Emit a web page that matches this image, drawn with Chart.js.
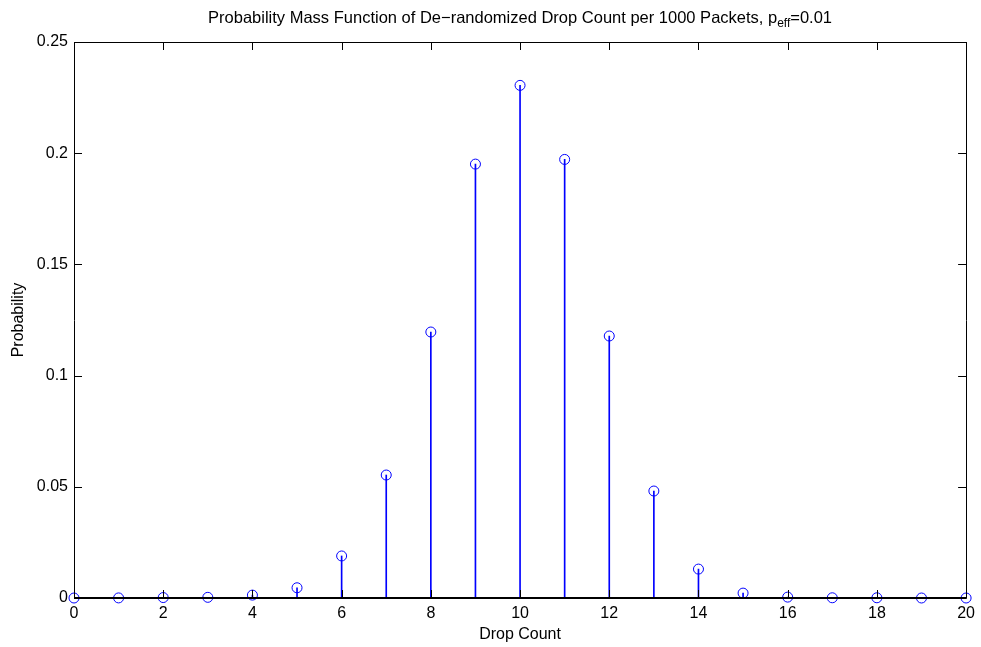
<!DOCTYPE html>
<html>
<head>
<meta charset="utf-8">
<script src="https://cdn.jsdelivr.net/npm/chart.js@4.4.1/dist/chart.umd.min.js"></script>
<style>
  html, body { margin: 0; padding: 0; background: #fff; }
  #wrap { width: 981px; height: 647px; position: relative; }
</style>
</head>
<body>
<div id="wrap"><canvas id="c" width="981" height="647"></canvas></div>
<script>
// ---- data ----
const dropCounts = [0,1,2,3,4,5,6,7,8,9,10,11,12,13,14,15,16,17,18,19,20];
const probabilities = [0, 0.00004, 0.0002, 0.0003, 0.0013, 0.0046, 0.0189, 0.0553, 0.1196, 0.1951,
                       0.2305, 0.1972, 0.1178, 0.0481, 0.0130, 0.0022, 0.0004, 0.0001, 0.0001, 0, 0];
const xTicks = [0,2,4,6,8,10,12,14,16,18,20];
const yTicks = [0, 0.05, 0.1, 0.15, 0.2, 0.25];
const titleMain = 'Probability Mass Function of De\u2212randomized Drop Count per 1000 Packets, p';
const titleSub = 'eff';
const titleTail = '=0.01';
const xLabel = 'Drop Count';
const yLabel = 'Probability';

const FONT = '"Liberation Sans", Arial, Helvetica, sans-serif';
const points = dropCounts.map((x, i) => ({ x: x, y: probabilities[i] }));

const framePlugin = {
  id: 'matlabFrame',
  afterDatasetsDraw(chart) {
    const ctx = chart.ctx;
    const a = chart.chartArea;
    const xs = chart.scales.x, ys = chart.scales.y;
    ctx.save();
    ctx.strokeStyle = '#000';
    ctx.lineWidth = 1;
    ctx.beginPath();
    ctx.rect(Math.round(a.left) + 0.5, Math.round(a.top) + 0.5,
             Math.round(a.right - a.left), Math.round(a.bottom - a.top));
    ctx.stroke();
    const TL = 8;
    ctx.beginPath();
    xTicks.forEach(v => {
      const px = Math.round(xs.getPixelForValue(v)) + 0.5;
      ctx.moveTo(px, a.bottom); ctx.lineTo(px, a.bottom - TL);
      ctx.moveTo(px, a.top); ctx.lineTo(px, a.top + TL);
    });
    yTicks.forEach(v => {
      const py = Math.round(ys.getPixelForValue(v)) + 0.5;
      ctx.moveTo(a.left, py); ctx.lineTo(a.left + TL, py);
      ctx.moveTo(a.right, py); ctx.lineTo(a.right - TL, py);
    });
    ctx.stroke();
    const by = ys.getPixelForValue(0);
    ctx.lineWidth = 2;
    ctx.beginPath();
    ctx.moveTo(xs.getPixelForValue(0), by);
    ctx.lineTo(xs.getPixelForValue(20), by);
    ctx.stroke();
    ctx.restore();
  },
  afterDraw(chart) {
    const ctx = chart.ctx;
    const a = chart.chartArea;
    ctx.save();
    ctx.fillStyle = '#000';
    const big = '16.5px ' + FONT, small = '12px ' + FONT;
    ctx.font = big; const w1 = ctx.measureText(titleMain).width;
    const w3 = ctx.measureText(titleTail).width;
    ctx.font = small; const w2 = ctx.measureText(titleSub).width;
    const total = w1 + w2 + w3;
    let x0 = (a.left + a.right) / 2 - total / 2;
    const base = 23;
    ctx.textAlign = 'left'; ctx.textBaseline = 'alphabetic';
    ctx.font = big; ctx.fillText(titleMain, x0, base);
    ctx.font = small; ctx.fillText(titleSub, x0 + w1, base + 4);
    ctx.font = big; ctx.fillText(titleTail, x0 + w1 + w2, base);
    ctx.font = '16px ' + FONT;
    ctx.textAlign = 'center'; ctx.textBaseline = 'alphabetic';
    ctx.fillText(xLabel, (a.left + a.right) / 2, 639);
    ctx.textBaseline = 'middle';
    ctx.translate(19, (a.top + a.bottom) / 2);
    ctx.rotate(-Math.PI / 2);
    ctx.fillText(yLabel, 0, 0);
    ctx.restore();
  }
};

new Chart(document.getElementById('c'), {
  type: 'scatter',
  data: {
    datasets: [
      {
        type: 'bar',
        data: points,
        backgroundColor: '#0000ff',
        borderWidth: 0,
        barThickness: 1,
        grouped: false,
        order: 2
      },
      {
        type: 'scatter',
        data: points,
        pointStyle: 'circle',
        pointRadius: 5,
        pointHoverRadius: 5,
        borderColor: '#0000ff',
        backgroundColor: 'rgba(0,0,0,0)',
        borderWidth: 1,
        clip: false,
        order: 1
      }
    ]
  },
  options: {
    responsive: false,
    animation: false,
    events: [],
    layout: { padding: { left: 0, right: 14, top: 42, bottom: 0 } },
    plugins: { legend: { display: false }, tooltip: { enabled: false }, title: { display: false } },
    scales: {
      x: {
        type: 'linear', min: 0, max: 20, offset: false,
        grid: { display: false, drawTicks: false },
        border: { display: false },
        afterFit(s) { s.height = 49; },
        afterBuildTicks(s) { s.ticks = xTicks.map(v => ({ value: v })); },
        ticks: { color: '#000', font: { family: FONT, size: 16 }, padding: 6, maxRotation: 0, autoSkip: false }
      },
      y: {
        type: 'linear', min: 0, max: 0.25,
        grid: { display: false, drawTicks: false },
        border: { display: false },
        afterFit(s) { s.width = 74; },
        afterBuildTicks(s) { s.ticks = yTicks.map(v => ({ value: v })); },
        ticks: { color: '#000', font: { family: FONT, size: 16 }, padding: 6,
                 callback: v => String(+v.toFixed(2)) }
      }
    }
  },
  plugins: [framePlugin]
});
</script>
</body>
</html>
